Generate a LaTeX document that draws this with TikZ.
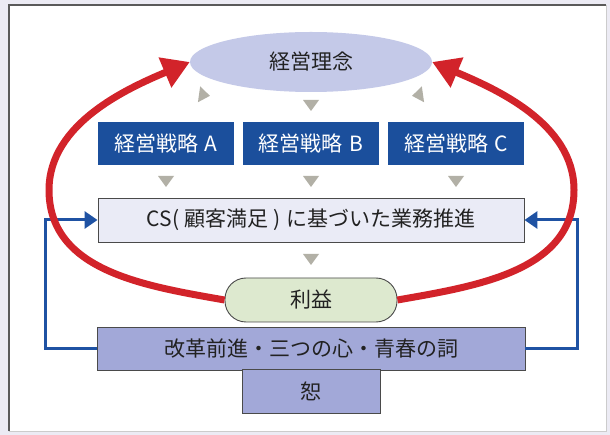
\documentclass[tikz,border=0pt]{standalone}
\usepackage{fontspec}
\setmainfont{Noto Sans CJK JP}
\usetikzlibrary{arrows.meta,shapes.geometric}
\definecolor{bgout}{HTML}{ECEBF4}
\definecolor{frameC}{HTML}{5A5A5A}
\definecolor{rinenC}{HTML}{C4C9E8}
\definecolor{stratC}{HTML}{1B4F9C}
\definecolor{csC}{HTML}{EAEBF6}
\definecolor{riekiC}{HTML}{DDE9CF}
\definecolor{kaiC}{HTML}{A2A8D8}
\definecolor{edgeC}{HTML}{4A4A4A}
\definecolor{redC}{HTML}{D2232A}
\definecolor{blueC}{HTML}{1F52A3}
\definecolor{triC}{HTML}{B2B0A6}
\definecolor{txtC}{HTML}{222222}
\tikzset{
  x=1pt, y=1pt,
  jtext/.style={font=\fontsize{21}{25}\selectfont, text=txtC, inner sep=0pt},
  rinenbox/.style={jtext, ellipse, fill=rinenC, minimum width=242pt, minimum height=60pt},
  stratbox/.style={jtext, text=white, fill=stratC, minimum width=136pt, minimum height=43pt},
  csbox/.style={jtext, fill=csC, draw=edgeC, line width=0.9pt, minimum width=426pt, minimum height=44pt},
  riekibox/.style={jtext, fill=riekiC, draw=edgeC, line width=0.9pt, rounded corners=21pt, minimum width=172pt, minimum height=44pt},
  kaibox/.style={jtext, fill=kaiC, draw=edgeC, line width=0.9pt, minimum width=428pt, minimum height=43pt},
  jobox/.style={jtext, fill=kaiC, draw=edgeC, line width=0.9pt, minimum width=138pt, minimum height=44pt},
  redarrow/.style={draw=redC, line width=7pt, -{Triangle[length=27pt,width=31pt]}},
  bluearrow/.style={draw=blueC, line width=3pt, -{Triangle[length=13pt,width=17pt]}},
  trishape/.style={fill=triC}
}
\newcommand{\gtri}[2]{%
  \begin{scope}[shift={#1},rotate=#2]
    \fill[trishape] (-8,5) -- (8,5) -- (0,-6) -- cycle;
  \end{scope}}
\begin{document}
\begin{tikzpicture}
% background and frame
\fill[bgout] (0,0) rectangle (610,-435);
\fill[white] (9,-5) rectangle (606,-431);
\draw[gray!40, line width=0.8pt] (606,-5) -- (606,-431) -- (9,-431);
\draw[frameC, line width=1.3pt] (9,-431) -- (9,-5) -- (606,-5);
\useasboundingbox (0,0) rectangle (610,-435);

% nodes
\node[rinenbox] (rinen) at (311,-62) {経営理念};
\node[stratbox] (sa) at (166,-144) {経営戦略\hspace{0.3em}A};
\node[stratbox] (sb) at (311,-144) {経営戦略\hspace{0.3em}B};
\node[stratbox] (sc) at (456,-144) {経営戦略\hspace{0.3em}C};
\node[csbox] (cs) at (311,-220) {CS(\hspace{0.25em}顧客満足\hspace{0.25em})\hspace{0.25em}に基づいた業務推進};
\node[riekibox] (rieki) at (311,-300) {利益};
\node[kaibox] (kai) at (311,-348.5) {改革前進・三つの心・青春の詞};
\node[jobox] (jo) at (311,-391) {恕};

% small gray triangles
\gtri{(204,-95)}{82}
\gtri{(311,-105)}{0}
\gtri{(418,-95)}{-82}
\gtri{(166,-181)}{0}
\gtri{(311,-181)}{0}
\gtri{(456,-181)}{0}
\gtri{(311,-259)}{0}

% blue feedback lines
\coordinate (bl) at (45,-220);
\coordinate (br) at (577,-220);
\draw[bluearrow] (kai.west) -| (bl) -- (cs.west);
\draw[bluearrow] (kai.east) -| (br) -- (cs.east);

% red loop
\coordinate (lm) at (49,-190);
\coordinate (rm) at (574,-190);
\draw[redarrow] (rieki.west) to[out=170,in=-90] (lm) to[out=90,in=203,looseness=0.9] (rinen.west);
\draw[redarrow] (rieki.east) to[out=10,in=-90] (rm) to[out=90,in=-23,looseness=0.9] (rinen.east);
\end{tikzpicture}
\end{document}
